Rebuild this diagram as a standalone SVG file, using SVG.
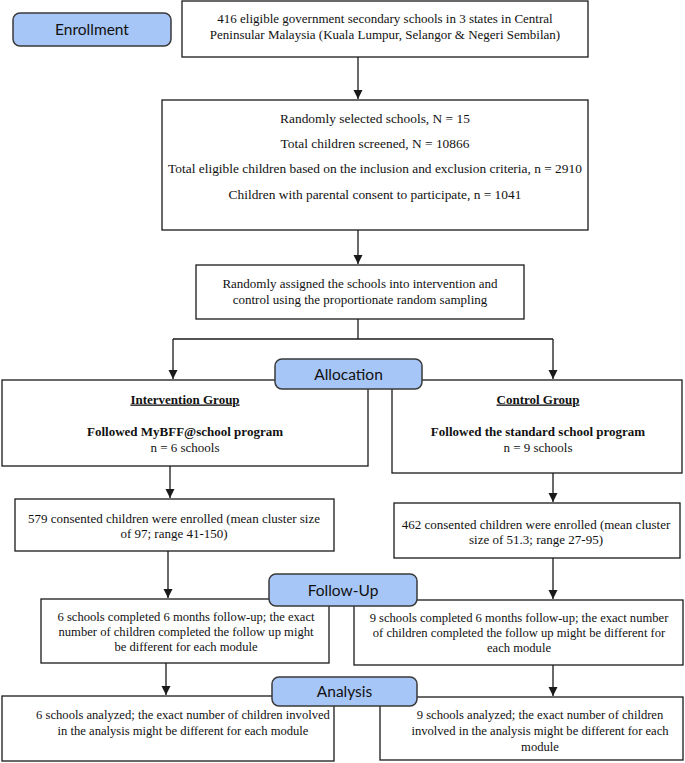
<svg xmlns="http://www.w3.org/2000/svg" width="685" height="763" viewBox="0 0 685 763">
<style>
.box{fill:#fff;stroke:#1a1a1a;stroke-width:1.3}
.pill{fill:#a7c6f8;stroke:#3a3a3a;stroke-width:1.5}
.t{font-family:"Liberation Serif","Times New Roman",serif;font-size:13px;fill:#111;text-anchor:middle}
.l{font-size:13.4px}
.s{font-size:12.6px}
.b{font-weight:bold}
.u{text-decoration:underline}
.p{font-family:Lato,"Open Sans",sans-serif;font-size:15.5px;fill:#111;text-anchor:middle}
.c{fill:none;stroke:#1a1a1a;stroke-width:1.3}
</style>
<defs>
<marker id="ah" markerUnits="userSpaceOnUse" markerWidth="9" markerHeight="10" refX="9" refY="4.5" orient="auto">
<path d="M0,0 L9,4.5 L0,9 z" fill="#1a1a1a"/>
</marker>
</defs>
<g id="connectors">
<path class="c" d="M358,57 V99" marker-end="url(#ah)"/>
<path class="c" d="M358,230 V264" marker-end="url(#ah)"/>
<path class="c" d="M358,319 V339"/>
<path class="c" d="M173,339 H553"/>
<path class="c" d="M173,339 V379" marker-end="url(#ah)"/>
<path class="c" d="M553,339 V379" marker-end="url(#ah)"/>
<path class="c" d="M170,466 V498" marker-end="url(#ah)"/>
<path class="c" d="M553,473 V502" marker-end="url(#ah)"/>
<path class="c" d="M168,551 V598" marker-end="url(#ah)"/>
<path class="c" d="M553,558 V599" marker-end="url(#ah)"/>
<path class="c" d="M166,663 V695" marker-end="url(#ah)"/>
<path class="c" d="M553,665 V696" marker-end="url(#ah)"/>
</g>
<g id="n-enroll-box">
<rect class="box" x="182" y="1" width="406" height="56"/>
<text class="t" x="385" y="23">416 eligible government secondary schools in 3 states in Central</text>
<text class="t" x="385" y="39">Peninsular Malaysia (Kuala Lumpur, Selangor &amp; Negeri Sembilan)</text>
</g>
<g id="n-screen">
<rect class="box" x="162" y="100" width="426" height="130"/>
<text class="t l" x="375" y="122.5">Randomly selected schools, N = 15</text>
<text class="t l" x="375" y="147.5">Total children screened, N = 10866</text>
<text class="t l" x="375" y="172.5">Total eligible children based on the inclusion and exclusion criteria, n = 2910</text>
<text class="t l" x="375" y="198.5">Children with parental consent to participate, n = 1041</text>
</g>
<g id="n-assign">
<rect class="box" x="196" y="265" width="328" height="54"/>
<text class="t" x="360" y="287.5">Randomly assigned the schools into intervention and</text>
<text class="t" x="360" y="303.5">control using the proportionate random sampling</text>
</g>
<g id="n-intervention">
<rect class="box" x="2" y="380" width="366" height="86"/>
<text class="t b u" x="185" y="403.5">Intervention Group</text>
<text class="t b" x="185" y="435.5">Followed MyBFF@school program</text>
<text class="t" x="185" y="451.5">n = 6 schools</text>
</g>
<g id="n-control">
<rect class="box" x="392" y="380" width="290" height="93"/>
<text class="t b u" x="538" y="403.5">Control Group</text>
<text class="t b" x="538" y="436">Followed the standard school program</text>
<text class="t" x="538" y="451.5">n = 9 schools</text>
</g>
<g id="n-enrolled-int">
<rect class="box" x="15" y="499" width="319" height="52"/>
<text class="t" x="174" y="523">579 consented children were enrolled (mean cluster size</text>
<text class="t" x="174" y="538">of 97; range 41-150)</text>
</g>
<g id="n-enrolled-ctl">
<rect class="box" x="394" y="503" width="286" height="55"/>
<text class="t" x="536" y="528.5">462 consented children were enrolled (mean cluster</text>
<text class="t" x="536" y="544">size of 51.3; range 27-95)</text>
</g>
<g id="n-fu-int">
<rect class="box" x="41" y="599" width="288" height="64"/>
<text class="t s" x="186" y="621">6 schools completed 6 months follow-up; the exact</text>
<text class="t s" x="186" y="636">number of children completed the follow up might</text>
<text class="t s" x="186" y="651">be different for each module</text>
</g>
<g id="n-fu-ctl">
<rect class="box" x="354" y="600" width="329" height="65"/>
<text class="t s" x="519" y="622">9 schools completed 6 months follow-up; the exact number</text>
<text class="t s" x="519" y="637">of children completed the follow up might be different for</text>
<text class="t s" x="519" y="651.5">each module</text>
</g>
<g id="n-an-int">
<rect class="box" x="2" y="696" width="332" height="65"/>
<text class="t s" x="183" y="719">6 schools analyzed; the exact number of children involved</text>
<text class="t s" x="183" y="735">in the analysis might be different for each module</text>
</g>
<g id="n-an-ctl">
<rect class="box" x="380" y="697" width="303" height="63"/>
<text class="t s" x="540" y="719">9 schools analyzed; the exact number of children</text>
<text class="t s" x="540" y="735">involved in the analysis might be different for each</text>
<text class="t s" x="540" y="751">module</text>
</g>
<g id="n-lbl-enrollment">
<rect class="pill" x="13" y="13" width="158" height="33" rx="7"/>
<text class="p" x="92" y="35">Enrollment</text>
</g>
<g id="n-lbl-allocation">
<rect class="pill" x="275" y="359" width="147" height="30" rx="7"/>
<text class="p" x="348.5" y="379.5">Allocation</text>
</g>
<g id="n-lbl-followup">
<rect class="pill" x="269" y="574" width="148" height="32" rx="7"/>
<text class="p" x="343" y="595.5">Follow-Up</text>
</g>
<g id="n-lbl-analysis">
<rect class="pill" x="272" y="677" width="145" height="29" rx="7"/>
<text class="p" x="344.5" y="697">Analysis</text>
</g>
</svg>
